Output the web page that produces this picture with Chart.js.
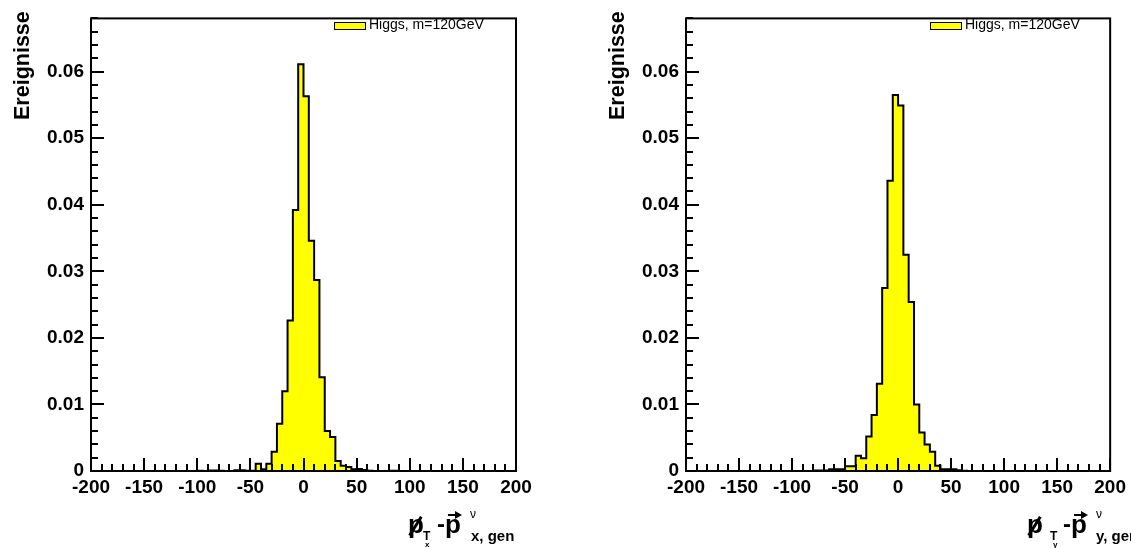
<!DOCTYPE html>
<html>
<head>
<meta charset="utf-8">
<script src="https://cdn.jsdelivr.net/npm/chart.js@4.4.1/dist/chart.umd.min.js"></script>
<style>
  html, body { margin:0; padding:0; background:#fff; }
  #wrap { position:relative; width:1131px; height:548px; overflow:hidden; background:#fff; font-family:"Liberation Sans", Arial, sans-serif; }
  .cv { position:absolute; top:0; }
  .t { position:absolute; white-space:nowrap; line-height:1; color:#000; font-family:"Liberation Sans", Arial, sans-serif; }
  .b { font-weight:bold; }
  .ytitle { position:absolute; white-space:nowrap; line-height:1; font-weight:bold; font-size:21.5px; color:#000;
            font-family:"Liberation Sans", Arial, sans-serif; transform-origin:0 0; transform:rotate(-90deg); }
  .leg { position:absolute; top:22px; width:30px; height:6px; background:#ffff00; border:1px solid #000; }
  .slash { position:absolute; width:2.5px; height:22px; background:#000; transform:rotate(32deg); transform-origin:center; }
  .arr { position:absolute; height:2px; background:#000; }
  .arrh { position:absolute; width:0; height:0; border-top:4px solid transparent; border-bottom:4px solid transparent; border-left:7px solid #000; }
</style>
</head>
<body>
<div id="wrap">
  <canvas id="c1" class="cv" width="595" height="548" style="left:0px"></canvas>
  <canvas id="c2" class="cv" width="536" height="548" style="left:595px"></canvas>

  <!-- y titles -->
  <div class="ytitle" style="left:12px;top:120px">Ereignisse</div>
  <div class="ytitle" style="left:607px;top:120px">Ereignisse</div>

  <!-- legends -->
  <div class="leg" style="left:334px"></div>
  <div class="t" style="left:369px;top:17px;font-size:14px">Higgs, m=120GeV</div>
  <div class="leg" style="left:930px"></div>
  <div class="t" style="left:965px;top:17px;font-size:14px">Higgs, m=120GeV</div>

  <!-- x title left -->
  <div class="t b" style="left:408px;top:511px;font-size:26px">p</div>
  <div class="slash" style="left:414px;top:515px"></div>
  <div class="t b" style="left:423px;top:530px;font-size:12px">T</div>
  <div class="t b" style="left:425px;top:541px;font-size:8px">x</div>
  <div class="t b" style="left:437px;top:512px;font-size:24px">-</div>
  <div class="t b" style="left:445px;top:511px;font-size:26px">p</div>
  <div class="arr" style="left:448px;top:514px;width:8px"></div>
  <div class="arrh" style="left:455px;top:511px"></div>
  <div class="t" style="left:470px;top:508px;font-size:12px">ν</div>
  <div class="t b" style="left:471px;top:528px;font-size:15px">x, gen</div>

  <!-- x title right -->
  <div class="t b" style="left:1027px;top:511px;font-size:26px">p</div>
  <div class="slash" style="left:1033px;top:515px"></div>
  <div class="t b" style="left:1050px;top:530px;font-size:12px">T</div>
  <div class="t b" style="left:1053px;top:541px;font-size:8px">y</div>
  <div class="t b" style="left:1063px;top:512px;font-size:24px">-</div>
  <div class="t b" style="left:1071px;top:511px;font-size:26px">p</div>
  <div class="arr" style="left:1074px;top:514px;width:8px"></div>
  <div class="arrh" style="left:1081px;top:511px"></div>
  <div class="t" style="left:1096px;top:508px;font-size:12px">ν</div>
  <div class="t b" style="left:1096px;top:528px;font-size:15px">y, gen</div>
</div>
<script>
// ---- data ----
const binLow = -200, binHigh = 200, binWidth = 5;           // 80 bins
const xTickLabels = [-200, -150, -100, -50, 0, 50, 100, 150, 200];
const yTickLabels = [0, 0.01, 0.02, 0.03, 0.04, 0.05, 0.06];
const xMinorStep = 10, yMinorStep = 0.002;
const yMax = 0.068;
const seriesName = "Higgs, m=120GeV";
// bin contents, bins [-200,-195) ... [195,200)
const valuesX = [
  0,0,0,0,0,0,0,0,0,0,            // -200 .. -155
  0,0,0,0,0,0,0,0,0,0,            // -150 .. -105
  0.00005,0,0.00007,0.00007,0.00005,0,0,0.0001,0.0001,0.00005,  // -100 .. -55
  0.00005,0.0011,0.00025,0.0011,0.0029,0.0071,0.0120,0.0226,0.0392,0.0611, // -50 .. -5
  0.0563,0.0346,0.0287,0.0141,0.0060,0.0051,0.0015,0.0008,0.0006,0.00025,  // 0 .. 45
  0.0003,0.00015,0.00005,0,0,0,0.00005,0.00005,0,0,          // 50 .. 95
  0,0,0,0,0,0,0,0,0,0,            // 100 .. 145
  0,0,0,0,0,0,0,0,0,0             // 150 .. 195
];
const valuesY = [
  0,0,0,0,0,0,0,0,0,0,
  0,0,0,0,0,0,0,0,0,0,
  0,0,0,0,0.00008,0.00008,0.00008,0.00025,0.00025,0.00025,         // -100 .. -55
  0.0007,0.0007,0.0023,0.0019,0.0052,0.0084,0.0131,0.0275,0.0436,0.0565,  // -50 .. -5
  0.0549,0.0325,0.0254,0.0100,0.0058,0.0040,0.0029,0.0008,0.00025,0.00025, // 0 .. 45
  0.00025,0.0001,0.00005,0,0,0,0,0,0,0,                           // 50 .. 95
  0,0,0,0,0,0,0,0,0,0,
  0,0,0,0,0,0,0,0,0,0
];

function histPoints(vals) {
  const pts = [{x: binLow, y: 0}];
  vals.forEach((v, i) => {
    const lo = binLow + i * binWidth, hi = lo + binWidth;
    pts.push({x: lo, y: v}, {x: hi, y: v});
  });
  pts.push({x: binHigh, y: 0});
  return pts;
}

const FONT = "'Liberation Sans', Arial, sans-serif";

const frameTicks = {
  id: 'frameTicks',
  afterDatasetsDraw(chart) {
    const {ctx, chartArea: a, scales: {x, y}} = chart;
    ctx.save();
    ctx.strokeStyle = '#000';
    ctx.lineWidth = 2;
    ctx.beginPath();
    for (let v = binLow; v <= binHigh + 1e-9; v += xMinorStep) {
      const px = Math.round(x.getPixelForValue(v));
      const major = xTickLabels.includes(v);
      ctx.moveTo(px, a.bottom);
      ctx.lineTo(px, a.bottom - (major ? 13 : 7));
    }
    const nMinor = Math.floor(yMax / yMinorStep + 1e-9);
    for (let k = 0; k <= nMinor; k++) {
      const v = k * yMinorStep;
      const py = Math.round(y.getPixelForValue(v));
      const major = k % 5 === 0;
      ctx.moveTo(a.left, py);
      ctx.lineTo(a.left + (major ? 13 : 7), py);
    }
    ctx.stroke();
    ctx.strokeRect(a.left, a.top, a.right - a.left, a.bottom - a.top);
    ctx.restore();
  }
};

function makeChart(id, vals, padRight) {
  return new Chart(document.getElementById(id), {
    type: 'line',
    data: {
      datasets: [{
        label: seriesName,
        data: histPoints(vals),
        borderColor: '#000',
        borderWidth: 2,
        backgroundColor: '#ffff00',
        fill: 'origin',
        pointRadius: 0,
        tension: 0
      }]
    },
    options: {
      responsive: false,
      animation: false,
      devicePixelRatio: 1,
      layout: { padding: { top: 12, right: padRight, left: 0, bottom: 0 } },
      plugins: { legend: { display: false }, tooltip: { enabled: false } },
      scales: {
        x: {
          type: 'linear', min: binLow, max: binHigh,
          grid: { display: false, drawTicks: false, tickLength: 0 }, border: { display: false },
          afterBuildTicks: s => { s.ticks = xTickLabels.map(v => ({value: v})); },
          ticks: { padding: 5, color: '#000', maxRotation: 0, autoSkip: false,
                   font: { family: FONT, size: 19, weight: 'bold' },
                   callback: v => String(v) },
          afterFit: s => { s.height = 77; }
        },
        y: {
          type: 'linear', min: 0, max: yMax,
          grid: { display: false, drawTicks: false, tickLength: 0 }, border: { display: false },
          afterBuildTicks: s => { s.ticks = yTickLabels.map(v => ({value: v})); },
          ticks: { padding: 7, color: '#000', autoSkip: false,
                   font: { family: FONT, size: 19, weight: 'bold' },
                   callback: v => v === 0 ? '0' : v.toFixed(2) },
          afterFit: s => { s.width = 91; }
        }
      }
    },
    plugins: [frameTicks]
  });
}

makeChart('c1', valuesX, 79);
makeChart('c2', valuesY, 19);
</script>
</body>
</html>
